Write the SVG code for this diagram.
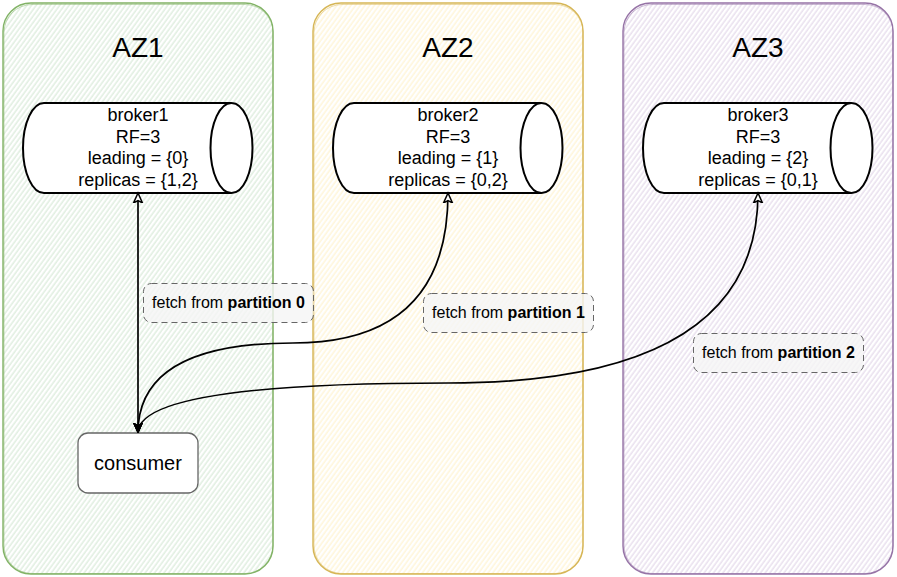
<svg xmlns="http://www.w3.org/2000/svg" width="897" height="577" viewBox="0 0 897 577">
<style>
text{font-family:"Liberation Sans",Arial,Helvetica,sans-serif;fill:#000}
.title{font-size:28px;text-anchor:middle}
.btxt{font-size:18px;text-anchor:middle}
.ltxt{font-size:16px;text-anchor:middle}
.ctxt{font-size:20px;text-anchor:middle}
.cyl{fill:#fff;stroke:#000;stroke-width:2}
.lbl{fill:#f5f5f5;fill-opacity:0.8;stroke:#666;stroke-width:1;stroke-dasharray:6 4}
.edge{fill:none;stroke:#000;stroke-width:1.7;marker-start:url(#openArrow);marker-end:url(#fillArrow)}
</style>
<defs>
<pattern id="hG" width="3.8" height="10" patternUnits="userSpaceOnUse" patternTransform="rotate(36)">
<line x1="2" y1="0" x2="2" y2="10" stroke="#d5e8d4" stroke-width="1.1"/>
</pattern>
<pattern id="hY" width="3.8" height="10" patternUnits="userSpaceOnUse" patternTransform="rotate(36)">
<line x1="2" y1="0" x2="2" y2="10" stroke="#fff2cc" stroke-width="1.1"/>
</pattern>
<pattern id="hP" width="3.8" height="10" patternUnits="userSpaceOnUse" patternTransform="rotate(36)">
<line x1="2" y1="0" x2="2" y2="10" stroke="#e1d5e7" stroke-width="1.1"/>
</pattern>
<marker id="openArrow" markerUnits="userSpaceOnUse" markerWidth="12" markerHeight="12" refX="10" refY="6" orient="auto-start-reverse">
<path d="M10,6 L0,1.5 L2.5,6 L0,10.5 Z" fill="#fff" stroke="#000" stroke-width="1.5" stroke-linejoin="miter"/>
</marker>
<marker id="fillArrow" markerUnits="userSpaceOnUse" markerWidth="12" markerHeight="12" refX="10" refY="6" orient="auto">
<path d="M10,6 L0,1.5 L2.5,6 L0,10.5 Z" fill="#000" stroke="#000" stroke-width="1"/>
</marker>
</defs>
<rect width="897" height="577" fill="#fff"/>

<g id="az1">
<rect x="3" y="3" width="270" height="571" rx="28" fill="url(#hG)" stroke="#82b366" stroke-width="1.4"/>
<rect x="4" y="4.5" width="269" height="569" rx="28" fill="none" stroke="#82b366" stroke-width="0.8" stroke-opacity="0.6"/>
<text class="title" x="138" y="57">AZ1</text>
</g>
<g id="az2">
<rect x="313" y="3" width="270" height="571" rx="28" fill="url(#hY)" stroke="#d6b656" stroke-width="1.4"/>
<rect x="314" y="4.5" width="269" height="569" rx="28" fill="none" stroke="#d6b656" stroke-width="0.8" stroke-opacity="0.6"/>
<text class="title" x="448" y="57">AZ2</text>
</g>
<g id="az3">
<rect x="623" y="3" width="270" height="571" rx="28" fill="url(#hP)" stroke="#9673a6" stroke-width="1.4"/>
<rect x="624" y="4.5" width="269" height="569" rx="28" fill="none" stroke="#9673a6" stroke-width="0.8" stroke-opacity="0.6"/>
<text class="title" x="758" y="57">AZ3</text>
</g>

<g id="broker1">
<path class="cyl" d="M231,103 L44,103 A21,45 0 0 0 44,193 L231,193"/>
<ellipse class="cyl" cx="231.5" cy="148" rx="21" ry="45"/>
<text class="btxt" x="138" y="121">broker1</text>
<text class="btxt" x="138" y="142.5">RF=3</text>
<text class="btxt" x="138" y="164">leading = {0}</text>
<text class="btxt" x="138" y="185.6">replicas = {1,2}</text>
</g>
<g id="broker2">
<path class="cyl" d="M541,103 L354,103 A21,45 0 0 0 354,193 L541,193"/>
<ellipse class="cyl" cx="541.5" cy="148" rx="21" ry="45"/>
<text class="btxt" x="448" y="121">broker2</text>
<text class="btxt" x="448" y="142.5">RF=3</text>
<text class="btxt" x="448" y="164">leading = {1}</text>
<text class="btxt" x="448" y="185.6">replicas = {0,2}</text>
</g>
<g id="broker3">
<path class="cyl" d="M851,103 L664,103 A21,45 0 0 0 664,193 L851,193"/>
<ellipse class="cyl" cx="851.5" cy="148" rx="21" ry="45"/>
<text class="btxt" x="758" y="121">broker3</text>
<text class="btxt" x="758" y="142.5">RF=3</text>
<text class="btxt" x="758" y="164">leading = {2}</text>
<text class="btxt" x="758" y="185.6">replicas = {0,1}</text>
</g>

<g id="consumer">
<rect x="78" y="433" width="120" height="60" rx="10" fill="#fff" stroke="#666" stroke-width="1.3"/>
<text class="ctxt" x="138" y="470">consumer</text>
</g>

<g id="connectors">
<path class="edge" d="M138,193 L138,433"/>
<path class="edge" d="M448,193 Q448,343 293,343 Q138,343 138,433"/>
<path class="edge" d="M758,193 Q758,383 448,383 Q138,383 138,433"/>
</g>

<g id="label0">
<rect class="lbl" x="143.5" y="283.5" width="170" height="39" rx="8"/>
<text class="ltxt" x="228.5" y="308">fetch from <tspan font-weight="bold">partition 0</tspan></text>
</g>
<g id="label1">
<rect class="lbl" x="423.5" y="293.5" width="170" height="39" rx="8"/>
<text class="ltxt" x="508.5" y="318">fetch from <tspan font-weight="bold">partition 1</tspan></text>
</g>
<g id="label2">
<rect class="lbl" x="693.5" y="333.5" width="170" height="39" rx="8"/>
<text class="ltxt" x="778.5" y="358">fetch from <tspan font-weight="bold">partition 2</tspan></text>
</g>
</svg>
